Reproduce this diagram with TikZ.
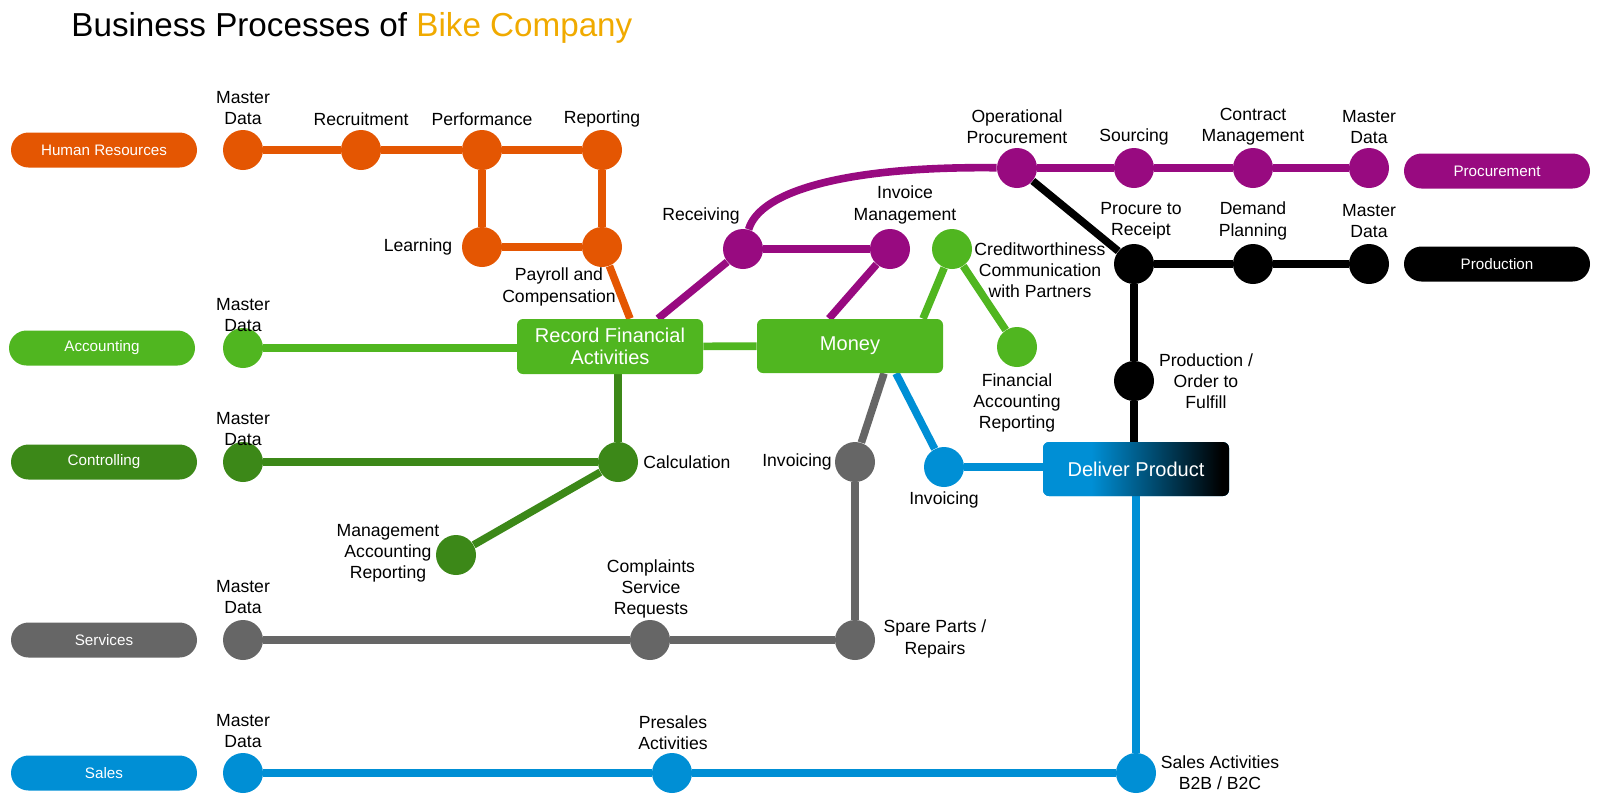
\documentclass[tikz,border=0pt]{standalone}
\usepackage{fontspec}
\setmainfont{Liberation Sans}
\usetikzlibrary{backgrounds,calc}
\definecolor{hr}{RGB}{228,86,2}
\definecolor{acc}{RGB}{80,182,32}
\definecolor{ctl}{RGB}{60,136,24}
\definecolor{srv}{RGB}{102,102,102}
\definecolor{sal}{RGB}{0,143,213}
\definecolor{pur}{RGB}{152,10,128}
\definecolor{gold}{RGB}{240,170,0}
\pgfdeclarehorizontalshading{dpshade}{100bp}{color(0bp)=(sal); color(38bp)=(sal); color(73bp)=(black); color(100bp)=(black)}
\tikzset{
  st/.style={circle, fill=#1, minimum size=20pt, inner sep=0pt},
  pill/.style={rounded corners=8.75pt, fill=#1, minimum width=93pt, minimum height=17.5pt, inner sep=0pt, text=white, font=\fontsize{7.6}{9}\selectfont},
  bx/.style={rounded corners=3pt, fill=#1, text=white, minimum width=92pt, minimum height=27.5pt, align=center, inner sep=0pt, font=\fontsize{10}{11.2}\selectfont},
  lbl/.style={align=center, inner sep=0pt, font=\fontsize{8.8}{10.6}\selectfont},
  ln/.style={line width=3.8pt, draw=#1},
}
\begin{document}
\begin{tikzpicture}[x=0.5pt,y=-0.5pt]
\useasboundingbox (0,0) rectangle (1600,805);
\node[anchor=base west, inner sep=0pt, font=\fontsize{16.6}{20}\selectfont] (title) at (71,36) {Business Processes of \textcolor{gold}{Bike Company}};
% pills
\node[pill=hr] (phr) at (104,150) {Human Resources};
\node[pill=acc] (pacc) at (102,348) {Accounting};
\node[pill=ctl] (pctl) at (104,462) {Controlling};
\node[pill=srv] (psrv) at (104,640) {Services};
\node[pill=sal] (psal) at (104,773) {Sales};
\node[pill=pur] (ppur) at (1497,171) {Procurement};
\node[pill=black] (pprod) at (1497,264) {Production};
% boxes
\node[bx=acc, minimum width=93pt, minimum height=27.5pt] (rfa) at (610,346.5) {Record Financial\\Activities};
\node[bx=acc, minimum width=93pt, minimum height=27pt] (money) at (850,346) {Money};
\node[bx=sal, shading=dpshade, minimum width=93pt, minimum height=27pt] (dp) at (1136,469) {Deliver Product};
% HR
\node[st=hr] (hrmd) at (243,150) {};
\node[st=hr] (hrrec) at (361,150) {};
\node[st=hr] (hrperf) at (482,150) {};
\node[st=hr] (hrrep) at (602,150) {};
\node[st=hr] (hrlearn) at (482,247) {};
\node[st=hr] (hrpay) at (602,247) {};
\node[lbl] (lhrmd) at (243,108) {Master\\Data};
\node[lbl] (lhrrec) at (361,119) {Recruitment};
\node[lbl] (lhrperf) at (482,119) {Performance};
\node[lbl] (lhrrep) at (602,119) {Reporting};
\node[lbl] (lhrlearn) at (418,247) {Learning};
\node[lbl] (lhrpay) at (559,287) {Payroll and\\Compensation};
% Accounting
\node[st=acc] (accmd) at (243,348) {};
\node[lbl] (laccmd) at (243,315) {Master\\Data};
\node[st=acc] (cw) at (952,249) {};
\node[lbl] (lcw) at (1040,270) {Creditworthiness\\Communication\\with Partners};
\node[st=acc] (far) at (1017,347) {};
\node[lbl] (lfar) at (1017,403) {Financial\\Accounting\\Reporting};
% Controlling
\node[st=ctl] (ctlmd) at (243,462) {};
\node[lbl] (lctlmd) at (243,429) {Master\\Data};
\node[st=ctl] (cal) at (618,462) {};
\node[lbl] (lcal) at (687,462) {Calculation};
\node[st=ctl] (mar) at (456,555) {};
\node[lbl] (lmar) at (388,553) {Management\\Accounting\\Reporting};
% Procurement
\node[st=pur] (rec) at (743,249) {};
\node[lbl] (lrec) at (701,216) {Receiving};
\node[st=pur] (inv) at (890,249) {};
\node[lbl] (linv) at (905,205) {Invoice\\Management};
\node[st=pur] (op) at (1017,168) {};
\node[lbl] (lop) at (1017,127) {Operational\\Procurement};
\node[st=pur] (src) at (1134,168) {};
\node[lbl] (lsrc) at (1134,137) {Sourcing};
\node[st=pur] (cm) at (1253,168) {};
\node[lbl] (lcm) at (1253,127) {Contract\\Management};
\node[st=pur] (pmd) at (1369,168) {};
\node[lbl] (lpmd) at (1369,127) {Master\\Data};
% Production
\node[st=black] (ptr) at (1134,264) {};
\node[lbl] (lptr) at (1141,221) {Procure to\\Receipt};
\node[st=black] (dpl) at (1253,264) {};
\node[lbl] (ldpl) at (1253,221) {Demand\\Planning};
\node[st=black] (prmd) at (1369,264) {};
\node[lbl] (lprmd) at (1369,221) {Master\\Data};
\node[st=black] (pof) at (1134,381) {};
\node[lbl] (lpof) at (1206,381) {Production /\\Order to\\Fulfill};
% Services
\node[st=srv] (smd) at (243,640) {};
\node[lbl] (lsmd) at (243,597) {Master\\Data};
\node[st=srv] (cmp) at (650,640) {};
\node[lbl] (lcmp) at (651,589) {Complaints\\Service\\Requests};
\node[st=srv] (spr) at (855,640) {};
\node[lbl] (lspr) at (935,639) {Spare Parts /\\Repairs};
\node[st=srv] (ginv) at (855,462) {};
\node[lbl] (lginv) at (797,462) {Invoicing};
% Sales
\node[st=sal] (binv) at (944,467) {};
\node[lbl] (lbinv) at (944,500) {Invoicing};
\node[st=sal] (salmd) at (243,773) {};
\node[lbl] (lsalmd) at (243,731) {Master\\Data};
\node[st=sal] (pre) at (672,773) {};
\node[lbl] (lpre) at (673,733) {Presales\\Activities};
\node[st=sal] (sa) at (1136,773) {};
\node[lbl] (lsa) at (1220,773) {Sales Activities\\B2B / B2C};
% connectors
\begin{pgfonlayer}{background}
\draw[ln=hr] (hrmd) -- (hrrec) -- (hrperf) -- (hrrep);
\draw[ln=hr] (hrperf) -- (hrlearn) -- (hrpay) -- (hrrep);
\draw[ln=hr] (hrpay) -- ($(rfa.north)+(20,0)$);
\draw[ln=acc] (accmd) -- (accmd -| rfa.west);
\draw[ln=acc] (rfa) -- (money);
\draw[ln=acc] (cw) -- ($(money.north)+(73,0)$);
\draw[ln=acc] (cw) -- (far);
\draw[ln=ctl] (ctlmd) -- (cal);
\draw[ln=ctl] (cal) -- (cal |- rfa.south);
\draw[ln=ctl] (cal) -- (mar);
\draw[ln=pur] (rec) -- ($(rfa.north)+(48,0)$);
\draw[ln=pur] (rec) -- (inv);
\draw[ln=pur] (inv) -- ($(money.north)+(-21,0)$);
\draw[ln=pur] (rec) .. controls (760,190) and (850,166) .. (op);
\draw[ln=pur] (op) -- (src) -- (cm) -- (pmd);
\draw[ln=black] (op) -- (ptr);
\draw[ln=black] (ptr) -- (dpl) -- (prmd);
\draw[ln=black] (ptr) -- (pof) -- (pof |- dp.north);
\draw[ln=srv] ($(money.south)+(34,0)$) -- (ginv);
\draw[ln=srv] (ginv) -- (spr);
\draw[ln=srv] (smd) -- (cmp) -- (spr);
\draw[ln=sal] ($(money.south)+(46,0)$) -- (binv);
\draw[ln=sal] (binv) -- (binv -| dp.west);
\draw[ln=sal] (dp) -- (sa);
\draw[ln=sal] (salmd) -- (pre) -- (sa);
\end{pgfonlayer}
\end{tikzpicture}
\end{document}
